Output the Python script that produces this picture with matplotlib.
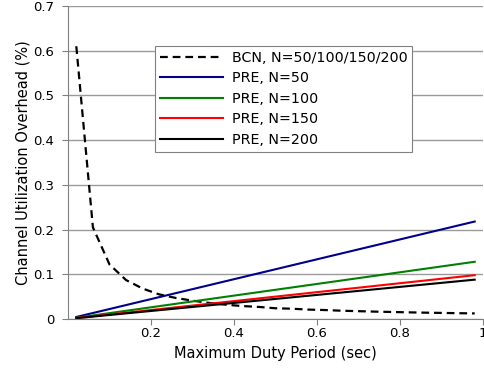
import matplotlib
matplotlib.use("Agg")
import matplotlib.pyplot as plt

bcn_x = [0.02, 0.06, 0.10, 0.14, 0.18, 0.22, 0.26, 0.30, 0.34, 0.38, 0.42, 0.46, 0.50, 0.54, 0.58, 0.62, 0.66, 0.70, 0.74, 0.78, 0.82, 0.86, 0.90, 0.94, 0.98]
bcn_y = [0.61, 0.205, 0.122, 0.087, 0.068, 0.055, 0.047, 0.041, 0.036, 0.032, 0.029, 0.027, 0.024, 0.023, 0.021, 0.020, 0.0185, 0.0175, 0.0165, 0.0157, 0.0149, 0.0142, 0.0136, 0.013, 0.0125]
pre_x = [0.02, 0.98]
pre_n50 = [0.0045, 0.218]
pre_n100 = [0.0027, 0.128]
pre_n150 = [0.0021, 0.098]
pre_n200 = [0.0018, 0.088]
x_ticks = [0.2, 0.4, 0.6, 0.8, 1.0]
x_labels = ["0.2", "0.4", "0.6", "0.8", "1"]
y_ticks = [0, 0.1, 0.2, 0.3, 0.4, 0.5, 0.6, 0.7]
y_labels = ["0", "0.1", "0.2", "0.3", "0.4", "0.5", "0.6", "0.7"]

plt.rcParams['font.family'] = ['DejaVu Sans']
fig = plt.figure(figsize=(4.85, 3.69), dpi=100)
ax = fig.add_axes([68/485, 1-319/369, (483-68)/485, (319-6)/369])

ax.plot(bcn_x, bcn_y, color='black', lw=1.6, ls=(0, (3.5, 2.2)), label='BCN, N=50/100/150/200')
ax.plot(pre_x, pre_n50, color='#00008B', lw=1.5, label='PRE, N=50')
ax.plot(pre_x, pre_n100, color='#008000', lw=1.5, label='PRE, N=100')
ax.plot(pre_x, pre_n150, color='#FF0000', lw=1.5, label='PRE, N=150')
ax.plot(pre_x, pre_n200, color='black', lw=1.5, label='PRE, N=200')

ax.set_xlim(0, 1)
ax.set_ylim(0, 0.7)
ax.set_xticks(x_ticks)
ax.set_xticklabels(x_labels, fontsize=9.5)
ax.set_yticks(y_ticks)
ax.set_yticklabels(y_labels, fontsize=9.5)
ax.yaxis.grid(True, color='#9a9a9a', lw=1)
ax.set_axisbelow(True)
for s in ['top', 'right']:
    ax.spines[s].set_visible(False)
for s in ['left', 'bottom']:
    ax.spines[s].set_color('#808080')
ax.tick_params(axis='x', length=4, color='#808080', direction='out', pad=2)
ax.tick_params(axis='y', length=4, color='#808080', direction='out', pad=6)
ax.set_xlabel('Maximum Duty Period (sec)', fontsize=10.5, labelpad=4)
ax.set_ylabel('Channel Utilization Overhead (%)', fontsize=10.5, labelpad=2)

leg = ax.legend(loc='upper left', bbox_to_anchor=((155-68)/415, 1-(46-6)/313), fontsize=10.3,
                frameon=True, fancybox=False, edgecolor='#808080', framealpha=1,
                handlelength=4.4, borderpad=0.35, labelspacing=0.45, handletextpad=0.6, borderaxespad=0)
leg.get_frame().set_linewidth(0.8)

fig.savefig('out.png', dpi=100)
